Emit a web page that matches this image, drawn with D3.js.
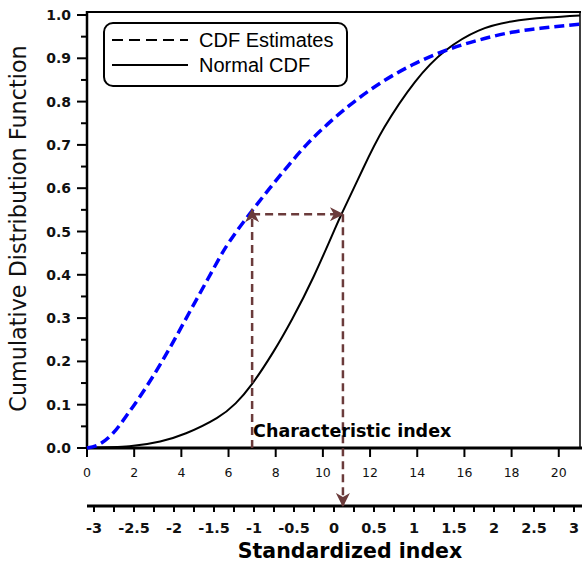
<!DOCTYPE html>
<html>
<head>
<meta charset="utf-8">
<script src="https://cdn.jsdelivr.net/npm/d3@7"></script>
<style>
  html, body { margin: 0; padding: 0; background: #fff; }
  svg { display: block; }
</style>
</head>
<body>
<script>
// ---- Data ----
const estX = [0, 0.5, 1.1, 1.8, 2.7, 3.5, 4.4, 5.1, 5.9, 6.3, 7.0, 7.75, 8.5, 9.3, 10.2, 11.1, 12.5, 13.8, 15.2, 16.6, 18.0, 19.5, 20.9];
const estY = [0, 0.008, 0.034, 0.084, 0.157, 0.23, 0.319, 0.388, 0.465, 0.497, 0.548, 0.6, 0.65, 0.7, 0.748, 0.79, 0.845, 0.885, 0.918, 0.942, 0.96, 0.971, 0.979];
const normX = [0, 1.8, 3.1, 4.2, 5.5, 6.3, 7.0, 7.9, 8.7, 9.6, 10.5, 10.85, 11.7, 12.6, 13.9, 15.2, 16.6, 18.0, 19.5, 20.9];
const normY = [0.001, 0.004, 0.015, 0.034, 0.069, 0.103, 0.148, 0.222, 0.298, 0.395, 0.505, 0.547, 0.645, 0.74, 0.845, 0.918, 0.964, 0.985, 0.994, 0.999];
const xTicks = [0, 2, 4, 6, 8, 10, 12, 14, 16, 18, 20];
const yTicks = [0, 0.1, 0.2, 0.3, 0.4, 0.5, 0.6, 0.7, 0.8, 0.9, 1.0];
const yMinorTicks = [0.05, 0.15, 0.25, 0.35, 0.45, 0.55, 0.65, 0.75, 0.85, 0.95];
const stdTicks = [-3, -2.5, -2, -1.5, -1, -0.5, 0, 0.5, 1, 1.5, 2, 2.5, 3];
const stdMinorTicks = [-2.75, -2.25, -1.75, -1.25, -0.75, -0.25, 0.25, 0.75, 1.25, 1.75, 2.25, 2.75];
const characteristicIndex = 7.0;   // x where the estimate reaches the level
const matchedIndex = 10.85;        // x where the normal CDF reaches the level
const level = 0.54;
const seriesNames = ["CDF Estimates", "Normal CDF"];
const yTitle = "Cumulative Distribution Function";
const stdTitle = "Standardized index";
const charLabel = "Characteristic index";

// ---- Layout ----
const W = 582, H = 565;
const pL = 87, pR = 580, pT = 12, pB = 448;

const svg = d3.select("body").append("svg").attr("width", W).attr("height", H);

const x = d3.scaleLinear().domain([0, 20.9]).range([pL, pR]);
const y = d3.scaleLinear().domain([0, 1]).range([pB, 15]);
const xs = d3.scaleLinear().domain([-3, 3]).range([94, 574]);

const BROWN = "#6b3b3b";

// defs: arrowheads
const defs = svg.append("defs");
defs.append("marker")
  .attr("id", "arr")
  .attr("viewBox", "0 0 14 14")
  .attr("refX", 13).attr("refY", 7)
  .attr("markerWidth", 14).attr("markerHeight", 14)
  .attr("markerUnits", "userSpaceOnUse")
  .attr("orient", "auto")
  .append("path")
  .attr("d", "M0,0 L14,7 L0,14 L4,7 Z")
  .attr("fill", BROWN);

// frame
svg.append("line").attr("x1", pL).attr("x2", pR + 1).attr("y1", pT).attr("y2", pT)
  .attr("stroke", "#000").attr("stroke-width", 2);
svg.append("line").attr("x1", pR).attr("x2", pR).attr("y1", pT).attr("y2", pB)
  .attr("stroke", "#000").attr("stroke-width", 1.5);

// Y axis
const yAxis = svg.append("g");
yAxis.append("line").attr("x1", pL).attr("x2", pL).attr("y1", pT - 1).attr("y2", pB + 1)
  .attr("stroke", "#000").attr("stroke-width", 2.5);
yAxis.selectAll("line.maj").data(yTicks).join("line").attr("class", "maj")
  .attr("x1", pL - 10).attr("x2", pL).attr("y1", d => y(d)).attr("y2", d => y(d))
  .attr("stroke", "#000").attr("stroke-width", 2);
yAxis.selectAll("line.min").data(yMinorTicks).join("line").attr("class", "min")
  .attr("x1", pL - 6).attr("x2", pL).attr("y1", d => y(d)).attr("y2", d => y(d))
  .attr("stroke", "#000").attr("stroke-width", 2);
yAxis.selectAll("text").data(yTicks).join("text")
  .attr("x", pL - 16).attr("y", d => y(d)).attr("dy", "0.36em")
  .attr("text-anchor", "end")
  .attr("font-family", "DejaVu Sans").attr("font-weight", "bold").attr("font-size", 14)
  .attr("fill", "#111")
  .text(d => d3.format(".1f")(d));

svg.append("text")
  .attr("transform", `translate(26,${(47 + 410) / 2}) rotate(-90)`)
  .attr("text-anchor", "middle")
  .attr("font-family", "DejaVu Sans").attr("font-size", 22.3)
  .attr("fill", "#111")
  .text(yTitle);

// X axis (top scale)
const xAxis = svg.append("g");
xAxis.append("line").attr("x1", pL - 1).attr("x2", pR + 2).attr("y1", pB).attr("y2", pB)
  .attr("stroke", "#000").attr("stroke-width", 3);
xAxis.selectAll("line.t").data(xTicks).join("line").attr("class", "t")
  .attr("x1", d => x(d)).attr("x2", d => x(d)).attr("y1", pB).attr("y2", pB + 9)
  .attr("stroke", "#000").attr("stroke-width", 2);
xAxis.selectAll("text").data(xTicks).join("text")
  .attr("x", d => x(d)).attr("y", 477)
  .attr("text-anchor", "middle")
  .attr("font-family", "DejaVu Sans").attr("font-size", 12.5)
  .attr("fill", "#111")
  .text(d => d);

// Standardized axis
const sAxis = svg.append("g");
const sy = 506;
sAxis.append("line").attr("x1", pL).attr("x2", W).attr("y1", sy).attr("y2", sy)
  .attr("stroke", "#000").attr("stroke-width", 3);
sAxis.selectAll("line.maj").data(stdTicks.concat(stdMinorTicks)).join("line").attr("class", "maj")
  .attr("x1", d => xs(d)).attr("x2", d => xs(d)).attr("y1", sy).attr("y2", sy + 6)
  .attr("stroke", "#000").attr("stroke-width", 2);
sAxis.selectAll("text").data(stdTicks).join("text")
  .attr("x", d => xs(d)).attr("y", 533)
  .attr("text-anchor", "middle")
  .attr("font-family", "DejaVu Sans").attr("font-weight", "bold").attr("font-size", 14.5)
  .attr("fill", "#111")
  .text(d => d);
svg.append("text")
  .attr("x", 350).attr("y", 558)
  .attr("text-anchor", "middle")
  .attr("font-family", "DejaVu Sans").attr("font-weight", "bold").attr("font-size", 20.5)
  .attr("fill", "#000")
  .text(stdTitle);

// curves
const lineEst = d3.line().x(d => x(d[0])).y(d => y(d[1])).curve(d3.curveMonotoneX);
const lineNorm = d3.line().x(d => x(d[0])).y(d => y(d[1])).curve(d3.curveNatural);
const estData = d3.zip(estX, estY);
const normData = d3.zip(normX, normY);

svg.append("path").datum(normData).attr("d", lineNorm)
  .attr("fill", "none").attr("stroke", "#000").attr("stroke-width", 2);
svg.append("path").datum(estData).attr("d", lineEst)
  .attr("fill", "none").attr("stroke", "#0000ff").attr("stroke-width", 3.5)
  .attr("stroke-dasharray", "10,5");

// brown dashed arrows
const dash = "8,5";
svg.append("line")
  .attr("x1", x(characteristicIndex)).attr("x2", x(characteristicIndex))
  .attr("y1", pB).attr("y2", y(level) - 5)
  .attr("stroke", BROWN).attr("stroke-width", 2.5).attr("stroke-dasharray", dash)
  .attr("marker-end", "url(#arr)");
svg.append("line")
  .attr("x1", x(characteristicIndex)).attr("x2", x(matchedIndex))
  .attr("y1", y(level)).attr("y2", y(level))
  .attr("stroke", BROWN).attr("stroke-width", 2.5).attr("stroke-dasharray", dash)
  .attr("marker-end", "url(#arr)");
svg.append("line")
  .attr("x1", x(matchedIndex)).attr("x2", x(matchedIndex))
  .attr("y1", y(level)).attr("y2", sy)
  .attr("stroke", BROWN).attr("stroke-width", 2.5).attr("stroke-dasharray", dash)
  .attr("marker-end", "url(#arr)");

svg.append("text")
  .attr("x", x(characteristicIndex) + 1).attr("y", 437)
  .attr("font-family", "DejaVu Sans").attr("font-weight", "bold").attr("font-size", 17.5)
  .attr("fill", "#000")
  .text(charLabel);

// legend
const lg = svg.append("g");
lg.append("rect").attr("x", 104).attr("y", 23).attr("width", 243).attr("height", 63)
  .attr("rx", 9).attr("ry", 9)
  .attr("fill", "#fff").attr("stroke", "#000").attr("stroke-width", 2);
const legendRows = [
  { name: seriesNames[0], dash: "11,6", yy: 40 },
  { name: seriesNames[1], dash: null, yy: 65 }
];
legendRows.forEach(r => {
  lg.append("line").attr("x1", 112).attr("x2", 188).attr("y1", r.yy).attr("y2", r.yy)
    .attr("stroke", "#000").attr("stroke-width", 2)
    .attr("stroke-dasharray", r.dash);
  lg.append("text").attr("x", 199).attr("y", r.yy + 7)
    .attr("font-family", "Liberation Sans, Arial, sans-serif").attr("font-size", 20)
    .attr("fill", "#000")
    .text(r.name);
});
</script>
</body>
</html>
